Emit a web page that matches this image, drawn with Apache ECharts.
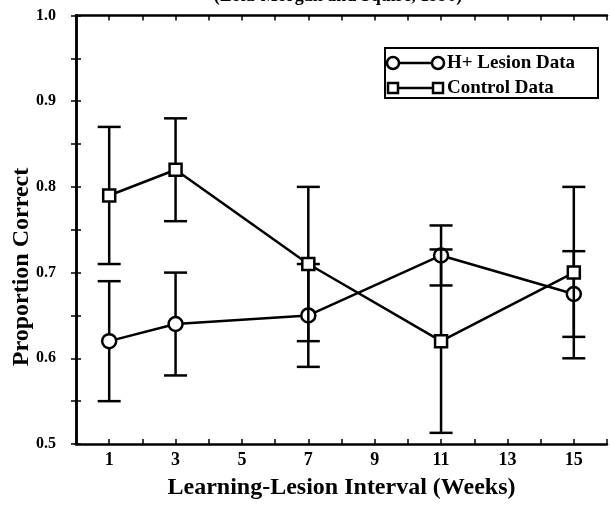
<!DOCTYPE html>
<html>
<head>
<meta charset="utf-8">
<script src="https://cdn.jsdelivr.net/npm/echarts@6/dist/echarts.min.js"></script>
<style>
html,body{margin:0;padding:0;background:#fff;}
#chart{width:610px;height:505px;}
</style>
</head>
<body>
<div id="chart"></div>
<script>
// ---- data ----
var weeks = [1, 3, 7, 11, 15];
var lesionMean = [0.62, 0.64, 0.65, 0.72, 0.675];
var lesionErr = [0.07, 0.06, 0.06, 0.035, 0.05];
var controlMean = [0.79, 0.82, 0.71, 0.62, 0.70];
var controlErr = [0.08, 0.06, 0.09, 0.107, 0.10];
var seriesNames = ['H+ Lesion Data', 'Control Data'];
var xTitle = 'Learning-Lesion Interval (Weeks)';
var yTitle = 'Proportion Correct';
var topTitle = '(Zola-Morgan and Squire, 1990)';

var FONT = '"Liberation Serif", "Times New Roman", serif';

function pts(means) { return weeks.map(function (w, i) { return [w, means[i]]; }); }
function errData(means, errs) {
  return weeks.map(function (w, i) { return [w, means[i] - errs[i], means[i] + errs[i]]; });
}
function errRender(params, api) {
  var x = api.value(0), lo = api.value(1), hi = api.value(2);
  var pLo = api.coord([x, lo]), pHi = api.coord([x, hi]);
  var hw = 11.5;
  var st = { stroke: '#000', lineWidth: 2.5, fill: null };
  return {
    type: 'group',
    children: [
      { type: 'line', shape: { x1: pLo[0], y1: pLo[1], x2: pHi[0], y2: pHi[1] }, style: st },
      { type: 'line', shape: { x1: pLo[0] - hw, y1: pLo[1], x2: pLo[0] + hw, y2: pLo[1] }, style: st },
      { type: 'line', shape: { x1: pHi[0] - hw, y1: pHi[1], x2: pHi[0] + hw, y2: pHi[1] }, style: st }
    ]
  };
}

var chart = echarts.init(document.getElementById('chart'), null, { renderer: 'canvas' });

var axisLineStyle = { lineStyle: { color: '#000', width: 2.5 } };
var tickStyle = { show: true, inside: true, length: 5, lineStyle: { color: '#000', width: 1.5 } };

var option = {
  animation: false,
  backgroundColor: '#fff',
  grid: { left: 76, right: 2, top: 15.5, bottom: 58, containLabel: false },
  xAxis: [
    {
      type: 'value', min: 0, max: 16, interval: 1, position: 'bottom',
      axisLine: axisLineStyle, axisTick: tickStyle, splitLine: { show: false },
      axisLabel: {
        margin: 7, color: '#000', fontFamily: FONT, fontWeight: 'bold', fontSize: 18,
        formatter: function (v) { return (v % 2 === 1) ? String(v) : ''; }
      },
      name: xTitle, nameLocation: 'middle', nameGap: 32,
      nameTextStyle: { color: '#000', fontFamily: FONT, fontWeight: 'bold', fontSize: 24 }
    },
    {
      type: 'value', min: 0, max: 16, interval: 1, position: 'top',
      axisLine: axisLineStyle, axisTick: tickStyle, splitLine: { show: false },
      axisLabel: { show: false }
    }
  ],
  yAxis: [
    {
      type: 'value', min: 0.5, max: 1.0, interval: 0.05, position: 'left',
      axisLine: axisLineStyle, axisTick: tickStyle, splitLine: { show: false },
      axisLabel: {
        margin: 20, color: '#000', fontFamily: FONT, fontWeight: 'bold', fontSize: 16,
        formatter: function (v) { return (Math.round(v * 100) % 10 === 0) ? v.toFixed(1) : ''; }
      }
    },
    {
      type: 'value', min: 0.5, max: 1.0, interval: 0.05, position: 'right',
      axisLine: axisLineStyle, axisTick: tickStyle, splitLine: { show: false },
      axisLabel: { show: false }
    }
  ],
  series: [
    {
      type: 'custom', name: seriesNames[0] + ' err', renderItem: errRender,
      data: errData(lesionMean, lesionErr), z: 1, encode: { x: 0, y: [1, 2] }
    },
    {
      type: 'line', name: seriesNames[0], data: pts(lesionMean), z: 2,
      symbol: 'circle', symbolSize: 14, showAllSymbol: true,
      lineStyle: { color: '#000', width: 2.5 },
      itemStyle: { color: '#fff', borderColor: '#000', borderWidth: 2.5 }
    },
    {
      type: 'custom', name: seriesNames[1] + ' err', renderItem: errRender,
      data: errData(controlMean, controlErr), z: 3, encode: { x: 0, y: [1, 2] }
    },
    {
      type: 'line', name: seriesNames[1], data: pts(controlMean), z: 4,
      symbol: 'rect', symbolSize: 12, showAllSymbol: true,
      lineStyle: { color: '#000', width: 2.5 },
      itemStyle: { color: '#fff', borderColor: '#000', borderWidth: 2.5 }
    }
  ],
  graphic: [
    {
      type: 'text', x: 338, y: 5, z: 10,
      style: { text: topTitle, fill: '#000', font: 'bold 18px ' + FONT, textAlign: 'center', textVerticalAlign: 'bottom' }
    },
    {
      type: 'text', x: 22, y: 267, rotation: Math.PI / 2, z: 10,
      style: { text: yTitle, fill: '#000', font: 'bold 24px ' + FONT, textAlign: 'center', textVerticalAlign: 'middle' }
    },
    // legend box
    { type: 'rect', z: 20, shape: { x: 385, y: 48, width: 213, height: 50 }, style: { fill: '#fff', stroke: '#000', lineWidth: 2 } },
    { type: 'line', z: 21, shape: { x1: 393, y1: 63, x2: 438, y2: 63 }, style: { stroke: '#000', lineWidth: 2.5 } },
    { type: 'circle', z: 22, shape: { cx: 393, cy: 63, r: 6 }, style: { fill: '#fff', stroke: '#000', lineWidth: 2.5 } },
    { type: 'circle', z: 22, shape: { cx: 438, cy: 63, r: 6 }, style: { fill: '#fff', stroke: '#000', lineWidth: 2.5 } },
    { type: 'text', z: 22, x: 447, y: 63, style: { text: seriesNames[0], fill: '#000', font: 'bold 19px ' + FONT, textVerticalAlign: 'middle' } },
    { type: 'line', z: 21, shape: { x1: 393, y1: 88, x2: 438, y2: 88 }, style: { stroke: '#000', lineWidth: 2.5 } },
    { type: 'rect', z: 22, shape: { x: 388, y: 83, width: 10, height: 10 }, style: { fill: '#fff', stroke: '#000', lineWidth: 2.5 } },
    { type: 'rect', z: 22, shape: { x: 433, y: 83, width: 10, height: 10 }, style: { fill: '#fff', stroke: '#000', lineWidth: 2.5 } },
    { type: 'text', z: 22, x: 447, y: 88, style: { text: seriesNames[1], fill: '#000', font: 'bold 19px ' + FONT, textVerticalAlign: 'middle' } }
  ]
};
chart.setOption(option);
</script>
</body>
</html>
